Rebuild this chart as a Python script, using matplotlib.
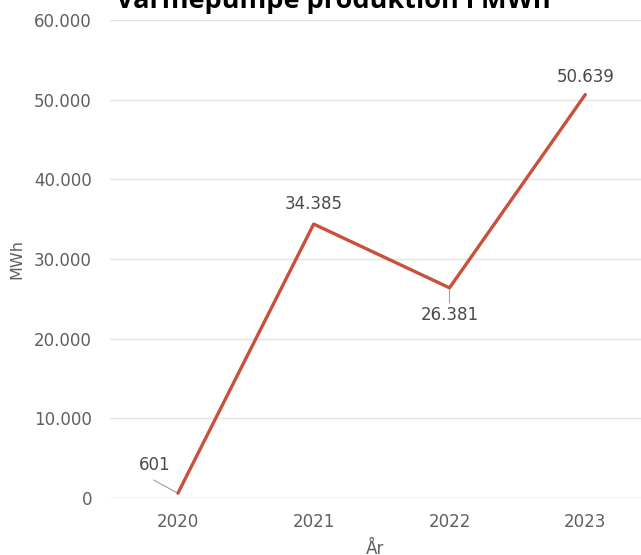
import matplotlib
matplotlib.use("Agg")
import matplotlib.pyplot as plt
from matplotlib.ticker import FuncFormatter

years = ["2020", "2021", "2022", "2023"]
values = [601, 34385, 26381, 50639]
y_ticks = [0, 10000, 20000, 30000, 40000, 50000, 60000]

def dk(v):
    return f"{int(round(v)):,}".replace(",", ".")

plt.rcParams['font.family'] = ['DejaVu Sans']
fig = plt.figure(figsize=(6.41, 5.55), dpi=100)
ax = fig.add_axes([110/641, 57/555, 1 - 110/641, (498-20)/555])

x = list(range(len(years)))
ax.plot(x, values, color="#C9503A", linewidth=2.4, solid_capstyle="round", zorder=3)

ax.set_xlim(-0.5, 3.41)
ax.set_ylim(0, 60000)
ax.set_yticks(y_ticks)
ax.yaxis.set_major_formatter(FuncFormatter(lambda v, p: dk(v)))
ax.set_xticks(x)
ax.set_xticklabels(years)
ax.grid(axis="y", color="#e3e3e3", linewidth=1)
ax.set_axisbelow(True)
for s in ax.spines.values():
    s.set_visible(False)
ax.axhline(0, color="#d6d6d6", linewidth=1, zorder=1)
ax.tick_params(axis="both", length=0, labelsize=12, labelcolor="#5f5f5f")
ax.tick_params(axis="y", pad=13)
ax.tick_params(axis="x", pad=11)

ax.set_ylabel("MWh", fontsize=11.5, color="#5f5f5f", labelpad=7)
ax.set_xlabel("År", fontsize=12, color="#5f5f5f", labelpad=6)

# data labels
offsets = [(-17, 20), (0, 14.5), (0, -19.5), (0, 12.5)]
for i, (v, off) in enumerate(zip(values, offsets)):
    ax.annotate(dk(v), (i, v), xytext=off, textcoords="offset points",
                ha="center", va="center", fontsize=12, color="#4a4a4a")
# leader lines
ax.annotate("", (0, values[0]), xytext=(-17.5, 9.5), textcoords="offset points",
            arrowprops=dict(arrowstyle="-", color="#a0a0a0", lw=0.8, shrinkA=0, shrinkB=1))
ax.annotate("", (2, values[2]), xytext=(0, -11), textcoords="offset points",
            arrowprops=dict(arrowstyle="-", color="#a0a0a0", lw=0.8, shrinkA=0, shrinkB=1))

fig.text(333/641, 1 - 8/555, "Varmepumpe produktion i MWh", ha="center", va="baseline",
         fontsize=19.5, fontweight="bold", color="black", family=["Open Sans", "DejaVu Sans"])

fig.savefig("out.png", dpi=100)
